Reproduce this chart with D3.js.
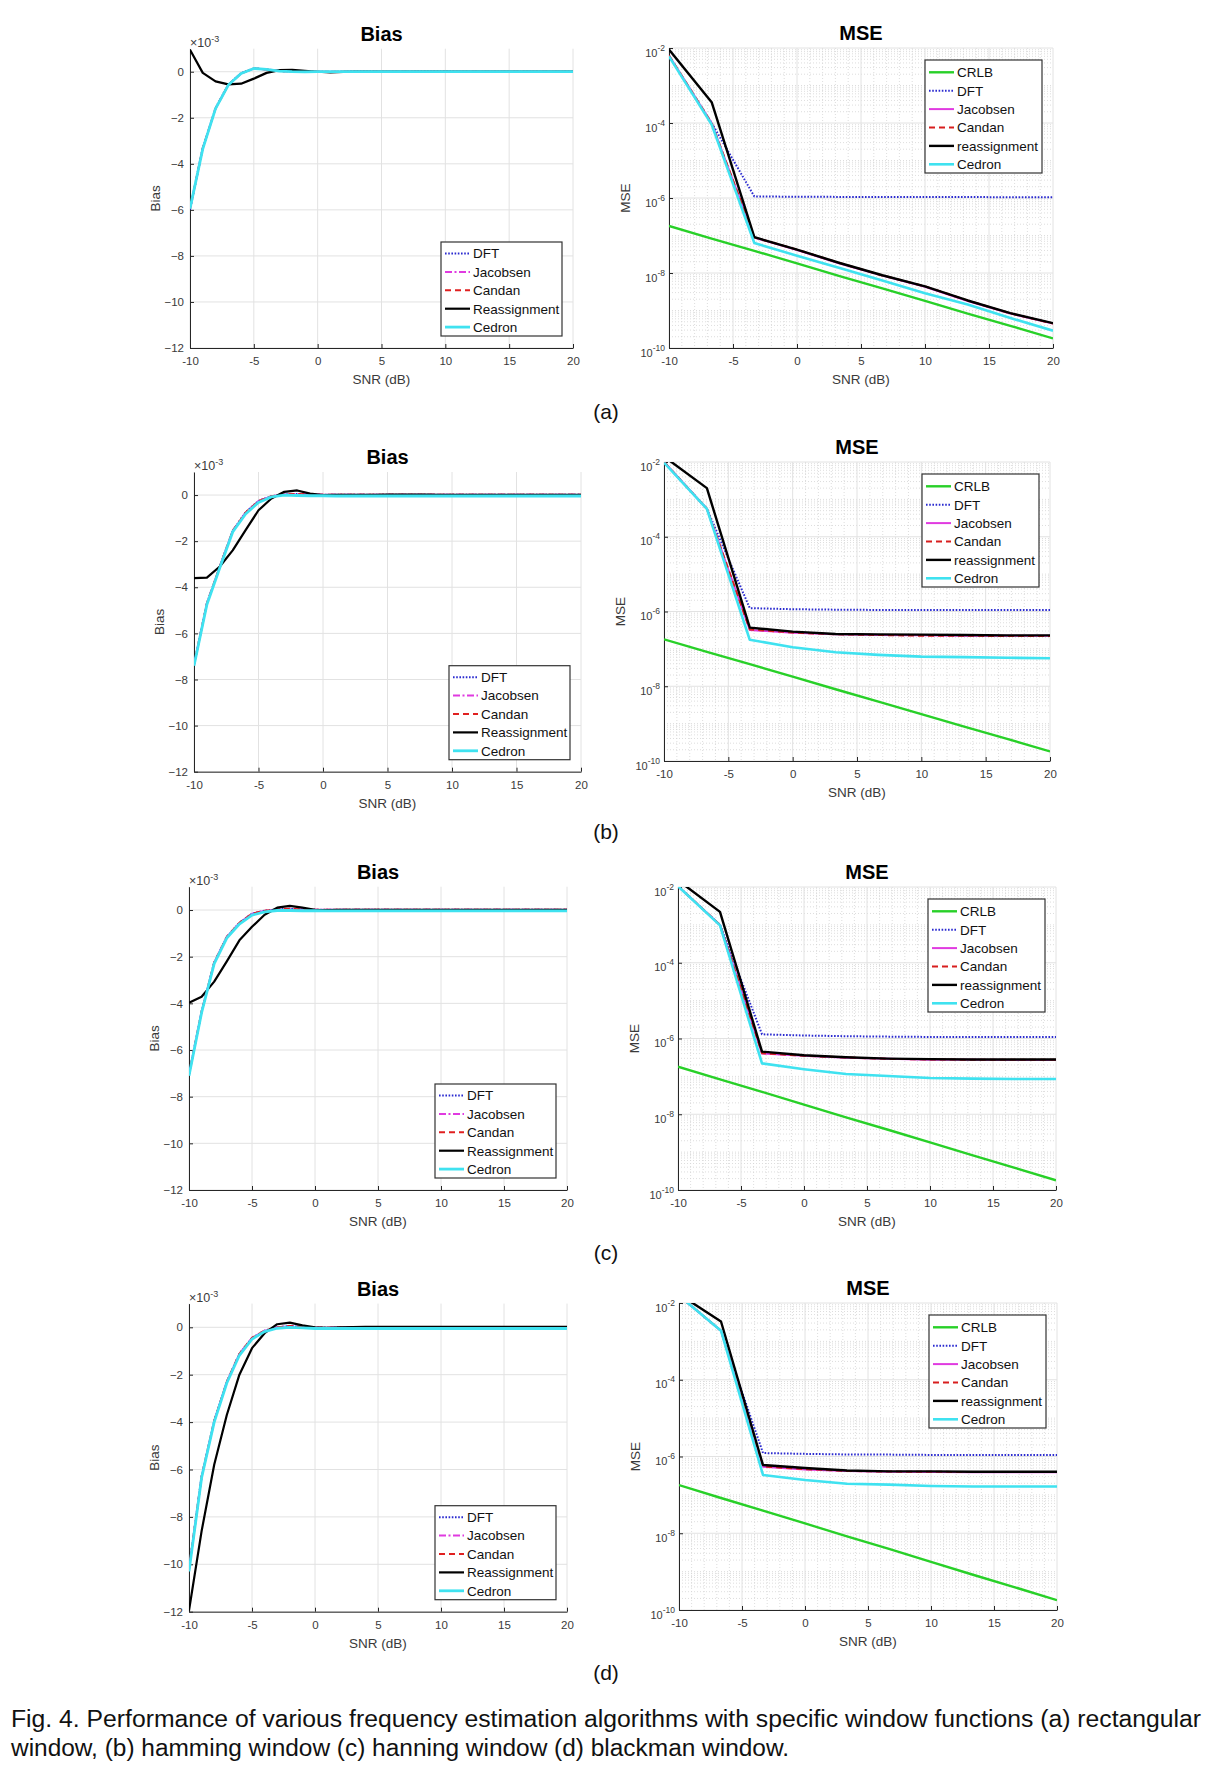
<!DOCTYPE html>
<html><head><meta charset="utf-8">
<script src="https://cdn.jsdelivr.net/npm/d3@7"></script>
<style>
body{margin:0;background:#fff}
svg{display:block}
text{font-family:"Liberation Sans",Arial,Helvetica,sans-serif}
</style>
</head><body>
<svg id="c" width="1220" height="1768"></svg>
<script>
// ---------------- DATA ----------------
const snrBias = [-10,-9,-8,-7,-6,-5,-4,-3,-2,-1,0,1,2,3,4,5,6,7,8,9,10,11,12,13,14,15,16,17,18,19,20];
const snrMse = [-10,-6.667,-3.333,0,3.333,6.667,10,13.333,16.667,20];
const xTickValues = [-10,-5,0,5,10,15,20];
const biasTickValues = [-12,-10,-8,-6,-4,-2,0];
const mseTickValues = [1e-10,1e-8,1e-6,1e-4,1e-2];
const mseTickExponents = ["-10","-8","-6","-4","-2"];
const biasLegendNames = ["DFT","Jacobsen","Candan","Reassignment","Cedron"];
const mseLegendNames = ["CRLB","DFT","Jacobsen","Candan","reassignment","Cedron"];
const panelLabels = ["(a)","(b)","(c)","(d)"];
const captionLines = [
 "Fig. 4. Performance of various frequency estimation algorithms with specific window functions (a) rectangular",
 "window, (b) hamming window (c) hanning window (d) blackman window."
];

// Bias (x10^-3) - (a) rectangular
const biasA_DFT      = [-6.0,-3.3,-1.58,-0.56,-0.06,0.15,0.1,0.03,0.01,0,0,0,0,0.01,0.01,0,0,0,0.01,0.01,0.01,0,0,0,0,0,0,0,0,0,0];
const biasA_Jacobsen = [-5.95,-3.32,-1.6,-0.57,-0.07,0.14,0.1,0.03,0.01,0,0,0,0,0,0,0,0,0,0,0,0,0,0,0,0,0,0,0,0,0,0];
const biasA_Candan   = [-5.95,-3.32,-1.6,-0.57,-0.07,0.14,0.1,0.03,0.01,0,0,0,0,0,0,0,0,0,0,0,0,0,0,0,0,0,0,0,0,0,0];
const biasA_Reassign = [0.95,-0.05,-0.42,-0.55,-0.52,-0.3,-0.05,0.07,0.08,0.04,0,-0.03,-0.01,0,0,0,0,0,0,0,0,0,0,0,0,0,0,0,0,0,0];
const biasA_Cedron   = [-5.95,-3.35,-1.6,-0.58,-0.08,0.14,0.1,0.03,0,-0.01,0,0,0,0,0,0,0,0,0,0,0,0,0,0,0,0,0,0,0,0,0];
// (b) hamming
const biasB_DFT      = [-7.35,-4.7,-3.1,-1.55,-0.75,-0.25,-0.05,0.03,0.05,0.03,0.01,0.01,0.01,0.01,0.01,0.01,0.01,0.01,0.01,0.01,0.01,0.01,0.01,0.01,0.01,0.01,0.01,0.01,0.01,0.01,0.01];
const biasB_Jacobsen = [-7.35,-4.7,-3.1,-1.55,-0.76,-0.26,-0.05,0.03,0.05,0.03,0.01,0.01,0.01,0.01,0.01,0.01,0.01,0.01,0.01,0.01,0.01,0.01,0.01,0.01,0.01,0.01,0.01,0.01,0.01,0.01,0.01];
const biasB_Candan   = [-7.35,-4.7,-3.1,-1.55,-0.76,-0.26,-0.05,0.03,0.05,0.03,0.01,0.01,0.01,0.01,0.01,0.01,0.01,0.01,0.01,0.01,0.01,0.01,0.01,0.01,0.01,0.01,0.01,0.01,0.01,0.01,0.01];
const biasB_Reassign = [-3.6,-3.58,-3.1,-2.4,-1.52,-0.66,-0.15,0.14,0.2,0.06,0,0.01,0.01,0.01,0.01,0.02,0.02,0.02,0.02,0.01,0.01,0.01,0.01,0.01,0.01,0.01,0.01,0.01,0.01,0.01,0.01];
const biasB_Cedron   = [-7.4,-4.75,-3.15,-1.6,-0.82,-0.32,-0.08,0,-0.02,-0.03,-0.03,-0.04,-0.04,-0.04,-0.04,-0.04,-0.04,-0.04,-0.04,-0.04,-0.04,-0.04,-0.04,-0.04,-0.04,-0.04,-0.04,-0.04,-0.04,-0.04,-0.04];
// (c) hanning
const biasC_DFT      = [-7.05,-4.35,-2.25,-1.15,-0.55,-0.15,-0.03,0.03,0.05,0.03,0.01,0.01,0.01,0.01,0.01,0.01,0.01,0.01,0.01,0.01,0.01,0.01,0.01,0.01,0.01,0.01,0.01,0.01,0.01,0.01,0.01];
const biasC_Jacobsen = [-7.05,-4.35,-2.25,-1.15,-0.55,-0.16,-0.03,0.03,0.05,0.03,0.01,0.01,0.01,0.01,0.01,0.01,0.01,0.01,0.01,0.01,0.01,0.01,0.01,0.01,0.01,0.01,0.01,0.01,0.01,0.01,0.01];
const biasC_Candan   = [-7.05,-4.35,-2.25,-1.15,-0.55,-0.16,-0.03,0.03,0.05,0.03,0.01,0.01,0.01,0.01,0.01,0.01,0.01,0.01,0.01,0.01,0.01,0.01,0.01,0.01,0.01,0.01,0.01,0.01,0.01,0.01,0.01];
const biasC_Reassign = [-3.97,-3.72,-3.07,-2.2,-1.3,-0.72,-0.2,0.1,0.18,0.1,0.01,0,0.01,0.01,0.01,0.01,0.01,0.01,0.01,0.01,0.01,0.01,0.01,0.01,0.01,0.01,0.01,0.01,0.01,0.01,0.01];
const biasC_Cedron   = [-7.1,-4.4,-2.3,-1.2,-0.6,-0.22,-0.08,-0.02,-0.02,-0.03,-0.03,-0.04,-0.04,-0.04,-0.04,-0.04,-0.04,-0.04,-0.04,-0.04,-0.04,-0.04,-0.04,-0.04,-0.04,-0.04,-0.04,-0.04,-0.04,-0.04,-0.04];
// (d) blackman
const biasD_DFT      = [-10.2,-6.3,-3.95,-2.3,-1.12,-0.45,-0.14,0,0.05,0.02,-0.02,-0.02,-0.01,0,0.01,0.01,0.01,0.01,0.01,0.01,0.01,0.01,0.01,0.01,0.01,0.01,0.01,0.01,0.01,0.01,0.01];
const biasD_Jacobsen = [-10.2,-6.3,-3.95,-2.3,-1.12,-0.45,-0.14,0,0.05,0.02,-0.02,-0.02,-0.01,0,0.01,0.01,0.01,0.01,0.01,0.01,0.01,0.01,0.01,0.01,0.01,0.01,0.01,0.01,0.01,0.01,0.01];
const biasD_Candan   = [-10.2,-6.3,-3.95,-2.3,-1.12,-0.45,-0.14,0,0.05,0.02,-0.02,-0.02,-0.01,0,0.01,0.01,0.01,0.01,0.01,0.01,0.01,0.01,0.01,0.01,0.01,0.01,0.01,0.01,0.01,0.01,0.01];
const biasD_Reassign = [-11.95,-8.6,-5.8,-3.7,-2.0,-0.88,-0.25,0.13,0.2,0.08,0,-0.02,0,0.01,0.02,0.02,0.02,0.02,0.02,0.02,0.02,0.02,0.02,0.02,0.02,0.02,0.02,0.02,0.02,0.02,0.02];
const biasD_Cedron   = [-10.3,-6.35,-4.0,-2.35,-1.18,-0.5,-0.18,-0.04,0,-0.02,-0.05,-0.05,-0.05,-0.05,-0.05,-0.05,-0.05,-0.05,-0.05,-0.05,-0.05,-0.05,-0.05,-0.05,-0.05,-0.05,-0.05,-0.05,-0.05,-0.05,-0.05];

// MSE
const mse_CRLB = [1.8e-7,8.3e-8,3.9e-8,1.8e-8,8.3e-9,3.9e-9,1.8e-9,8.3e-10,3.9e-10,1.8e-10];
// (a)
const mseA_DFT      = [6.2e-3,1.0e-4,1.1e-6,1.08e-6,1.07e-6,1.07e-6,1.06e-6,1.06e-6,1.05e-6,1.05e-6];
const mseA_Jacobsen = [6.3e-3,9.8e-5,8.8e-8,4.1e-8,1.8e-8,8.5e-9,4.3e-9,1.8e-9,8.3e-10,4.5e-10];
const mseA_Candan   = [6.3e-3,9.9e-5,8.9e-8,4.2e-8,1.85e-8,8.6e-9,4.4e-9,1.85e-9,8.4e-10,4.5e-10];
const mseA_Reassign = [9.1e-3,3.6e-4,9.0e-8,4.2e-8,1.85e-8,8.7e-9,4.4e-9,1.85e-9,8.5e-10,4.6e-10];
const mseA_Cedron   = [6.0e-3,9.1e-5,6.3e-8,2.9e-8,1.35e-8,6.3e-9,2.9e-9,1.45e-9,6.3e-10,2.9e-10];
// (b)
const mseB_DFT      = [1.0e-2,5.6e-4,1.23e-6,1.15e-6,1.12e-6,1.1e-6,1.1e-6,1.1e-6,1.1e-6,1.1e-6];
const mseB_Jacobsen = [1.0e-2,5.6e-4,3.2e-7,2.7e-7,2.45e-7,2.35e-7,2.3e-7,2.25e-7,2.25e-7,2.25e-7];
const mseB_Candan   = [1.0e-2,5.6e-4,3.3e-7,2.75e-7,2.45e-7,2.35e-7,2.25e-7,2.25e-7,2.2e-7,2.2e-7];
const mseB_Reassign = [1.4e-2,2.0e-3,3.7e-7,2.9e-7,2.5e-7,2.45e-7,2.4e-7,2.35e-7,2.3e-7,2.3e-7];
const mseB_Cedron   = [9.6e-3,5.6e-4,1.75e-7,1.1e-7,8.1e-8,6.9e-8,6.2e-8,6.0e-8,5.8e-8,5.6e-8];
// (c)
const mseC_DFT      = [1.05e-2,1.0e-3,1.29e-6,1.2e-6,1.15e-6,1.12e-6,1.1e-6,1.1e-6,1.1e-6,1.1e-6];
const mseC_Jacobsen = [1.05e-2,1.0e-3,4.0e-7,3.5e-7,3.1e-7,2.9e-7,2.75e-7,2.75e-7,2.7e-7,2.7e-7];
const mseC_Candan   = [1.05e-2,1.0e-3,4.1e-7,3.5e-7,3.15e-7,2.9e-7,2.8e-7,2.75e-7,2.75e-7,2.75e-7];
const mseC_Reassign = [1.5e-2,2.2e-3,4.5e-7,3.6e-7,3.2e-7,2.95e-7,2.85e-7,2.8e-7,2.8e-7,2.8e-7];
const mseC_Cedron   = [1.05e-2,9.7e-4,2.2e-7,1.55e-7,1.15e-7,1.02e-7,9.1e-8,8.7e-8,8.5e-8,8.5e-8];
// (d)
const mseD_DFT      = [1.55e-2,1.9e-3,1.23e-6,1.17e-6,1.13e-6,1.12e-6,1.1e-6,1.1e-6,1.1e-6,1.1e-6];
const mseD_Jacobsen = [1.55e-2,1.9e-3,5.4e-7,4.6e-7,4.2e-7,4.0e-7,3.95e-7,3.9e-7,3.9e-7,3.9e-7];
const mseD_Candan   = [1.55e-2,1.9e-3,5.5e-7,4.7e-7,4.2e-7,4.05e-7,4.0e-7,3.95e-7,3.95e-7,3.95e-7];
const mseD_Reassign = [1.7e-2,3.3e-3,6.0e-7,5.0e-7,4.3e-7,4.1e-7,4.1e-7,4.0e-7,4.0e-7,4.0e-7];
const mseD_Cedron   = [1.55e-2,1.9e-3,3.3e-7,2.45e-7,1.95e-7,1.85e-7,1.7e-7,1.65e-7,1.65e-7,1.65e-7];

// ---------------- STYLES / LAYOUT ----------------
const biasStyles = [
  {color:"#2b2bd0", dash:"1.6,1.6", w:2},
  {color:"#e03ae0", dash:"7,2.5,2,2.5", w:2},
  {color:"#e02020", dash:"6,4", w:2},
  {color:"#000000", dash:null, w:2.2},
  {color:"#3fe2f0", dash:null, w:2.8}
];
const mseStyles = [
  {color:"#28d028", dash:null, w:2.4},
  {color:"#2b2bd0", dash:"1.6,1.6", w:2},
  {color:"#e03ae0", dash:null, w:2},
  {color:"#d81e1e", dash:"6,4", w:2},
  {color:"#000000", dash:null, w:2.4},
  {color:"#3fe2f0", dash:null, w:2.6}
];

const panels = [
  {bias:{l:190,r:573,t:48.7,b:348}, mse:{l:669,r:1053,t:48,b:348}, labelY:419,
   biasData:[biasA_DFT,biasA_Jacobsen,biasA_Candan,biasA_Reassign,biasA_Cedron],
   mseData:[mse_CRLB,mseA_DFT,mseA_Jacobsen,mseA_Candan,mseA_Reassign,mseA_Cedron]},
  {bias:{l:194,r:581,t:472,b:771.7}, mse:{l:664,r:1050,t:462,b:761}, labelY:839,
   biasData:[biasB_DFT,biasB_Jacobsen,biasB_Candan,biasB_Reassign,biasB_Cedron],
   mseData:[mse_CRLB,mseB_DFT,mseB_Jacobsen,mseB_Candan,mseB_Reassign,mseB_Cedron]},
  {bias:{l:189,r:567,t:886.7,b:1190}, mse:{l:678,r:1056,t:887,b:1190}, labelY:1260,
   biasData:[biasC_DFT,biasC_Jacobsen,biasC_Candan,biasC_Reassign,biasC_Cedron],
   mseData:[mse_CRLB,mseC_DFT,mseC_Jacobsen,mseC_Candan,mseC_Reassign,mseC_Cedron]},
  {bias:{l:189,r:567,t:1303.6,b:1611.7}, mse:{l:679,r:1057,t:1303,b:1610}, labelY:1680,
   biasData:[biasD_DFT,biasD_Jacobsen,biasD_Candan,biasD_Reassign,biasD_Cedron],
   mseData:[mse_CRLB,mseD_DFT,mseD_Jacobsen,mseD_Candan,mseD_Reassign,mseD_Cedron]}
];

const svg = d3.select("#c");
const defs = svg.append("defs");
const AX = "#262626", TICK = "#3a3a3a", GRID = "#e2e2e2", MINOR = "#d4d4d4";

function clip(id, box){
  defs.append("clipPath").attr("id", id).append("rect")
    .attr("x", box.l).attr("y", box.t).attr("width", box.r-box.l).attr("height", box.b-box.t);
}

function commonAxes(g, box, x, y, yTicks){
  const xa = g.append("g").attr("transform",`translate(0,${box.b})`)
    .call(d3.axisBottom(x).tickValues(xTickValues).tickSizeInner(-4).tickSizeOuter(0).tickPadding(9).tickFormat(d=>d));
  xa.select(".domain").attr("stroke",AX);
  xa.selectAll(".tick line").attr("stroke",AX);
  xa.selectAll("text").attr("fill",TICK).style("font-size","11.5px").attr("font-family",null);
  const ya = g.append("g").attr("transform",`translate(${box.l},0)`)
    .call(d3.axisLeft(y).tickValues(yTicks).tickSizeInner(-4).tickSizeOuter(0).tickPadding(6));
  ya.select(".domain").attr("stroke",AX);
  ya.selectAll(".tick line").attr("stroke",AX);
  return {xa, ya};
}

function legend(g, x0, y0, w, h, names, styles, firstOff){
  g.append("rect").attr("x",x0).attr("y",y0).attr("width",w).attr("height",h)
    .attr("fill","#fff").attr("stroke","#333").attr("stroke-width",1.2);
  names.forEach((n,i)=>{
    const cy = y0 + firstOff + i*18.4;
    const s = styles[i];
    g.append("line").attr("x1",x0+4).attr("x2",x0+29).attr("y1",cy).attr("y2",cy)
      .attr("stroke",s.color).attr("stroke-width",s.w).attr("stroke-dasharray",s.dash);
    g.append("text").attr("x",x0+32).attr("y",cy+4.8).text(n)
      .style("font-size","13.5px").attr("fill","#111");
  });
}

function drawBias(p, idx){
  const box = p.bias;
  const g = svg.append("g");
  const x = d3.scaleLinear([-10,20],[box.l,box.r]);
  const y = d3.scaleLinear([-12,1],[box.b,box.t]);
  g.append("g").selectAll("line").data(xTickValues).join("line")
    .attr("x1",d=>x(d)).attr("x2",d=>x(d)).attr("y1",box.t).attr("y2",box.b).attr("stroke",GRID);
  g.append("g").selectAll("line").data(biasTickValues).join("line")
    .attr("x1",box.l).attr("x2",box.r).attr("y1",d=>y(d)).attr("y2",d=>y(d)).attr("stroke",GRID);
  const {ya} = commonAxes(g, box, x, y, biasTickValues);
  ya.selectAll("text").attr("fill",TICK).style("font-size","11.5px");
  const cid = "cb"+idx; clip(cid, box);
  const line = d3.line().x((d,i)=>x(snrBias[i])).y(d=>y(d));
  const lg = g.append("g").attr("clip-path",`url(#${cid})`);
  p.biasData.forEach((arr,i)=>{
    const s = biasStyles[i];
    lg.append("path").attr("d",line(arr)).attr("fill","none").attr("stroke",s.color)
      .attr("stroke-width",s.w).attr("stroke-dasharray",s.dash).attr("stroke-linejoin","round");
  });
  const ex = g.append("text").attr("x",box.l).attr("y",box.t-2).attr("fill",TICK).style("font-size","12.5px");
  ex.append("tspan").text("\u00d710");
  ex.append("tspan").attr("dy",-5).style("font-size","9px").text("-3");
  g.append("text").attr("x",(box.l+box.r)/2).attr("y",box.t-8).attr("text-anchor","middle")
    .style("font-size","20px").style("font-weight","bold").attr("fill","#000").text("Bias");
  g.append("text").attr("x",(box.l+box.r)/2).attr("y",box.b+36).attr("text-anchor","middle")
    .style("font-size","13.5px").attr("fill",TICK).text("SNR (dB)");
  g.append("text").attr("transform",`translate(${box.l-30},${(box.t+box.b)/2}) rotate(-90)`)
    .attr("text-anchor","middle").style("font-size","13.5px").attr("fill",TICK).text("Bias");
  legend(g, box.r-11-121, box.b-12-94, 121, 94, biasLegendNames, biasStyles, 11.5);
}

function drawMse(p, idx){
  const box = p.mse;
  const g = svg.append("g");
  const x = d3.scaleLinear([-10,20],[box.l,box.r]);
  const y = d3.scaleLog([1e-10,1e-2],[box.b,box.t]);
  const minorX = d3.range(-10,21,1).filter(v=>v%5!==0);
  g.append("g").selectAll("line").data(minorX).join("line")
    .attr("x1",d=>x(d)).attr("x2",d=>x(d)).attr("y1",box.t).attr("y2",box.b)
    .attr("stroke",MINOR).attr("stroke-width",0.8).attr("stroke-dasharray","1,2");
  const minorY = [];
  for(let e=-10;e<-2;e++){ for(let k=1;k<10;k++){ const v=k*Math.pow(10,e); if(!(k===1 && e%2===0)) minorY.push(v);} }
  g.append("g").selectAll("line").data(minorY).join("line")
    .attr("x1",box.l).attr("x2",box.r).attr("y1",d=>y(d)).attr("y2",d=>y(d))
    .attr("stroke",MINOR).attr("stroke-width",0.8).attr("stroke-dasharray","1,2");
  g.append("g").selectAll("line").data(xTickValues).join("line")
    .attr("x1",d=>x(d)).attr("x2",d=>x(d)).attr("y1",box.t).attr("y2",box.b).attr("stroke",GRID);
  g.append("g").selectAll("line").data(mseTickValues).join("line")
    .attr("x1",box.l).attr("x2",box.r).attr("y1",d=>y(d)).attr("y2",d=>y(d)).attr("stroke",GRID);
  const {ya} = commonAxes(g, box, x, y, mseTickValues);
  ya.selectAll("text").remove();
  mseTickValues.forEach((v,i)=>{
    const t = g.append("text").attr("x",box.l-4).attr("y",y(v)+8.5).attr("text-anchor","end")
      .attr("fill",TICK).style("font-size","11px");
    t.append("tspan").text("10");
    t.append("tspan").attr("dy",-6).style("font-size","8.5px").text(mseTickExponents[i]);
  });
  const cid = "cm"+idx; clip(cid, box);
  const line = d3.line().x((d,i)=>x(snrMse[i])).y(d=>y(d));
  const lg = g.append("g").attr("clip-path",`url(#${cid})`);
  p.mseData.forEach((arr,i)=>{
    const s = mseStyles[i];
    lg.append("path").attr("d",line(arr)).attr("fill","none").attr("stroke",s.color)
      .attr("stroke-width",s.w).attr("stroke-dasharray",s.dash).attr("stroke-linejoin","round");
  });
  g.append("text").attr("x",(box.l+box.r)/2).attr("y",box.t-8).attr("text-anchor","middle")
    .style("font-size","20px").style("font-weight","bold").attr("fill","#000").text("MSE");
  g.append("text").attr("x",(box.l+box.r)/2).attr("y",box.b+36).attr("text-anchor","middle")
    .style("font-size","13.5px").attr("fill",TICK).text("SNR (dB)");
  g.append("text").attr("transform",`translate(${box.l-39},${(box.t+box.b)/2}) rotate(-90)`)
    .attr("text-anchor","middle").style("font-size","13.5px").attr("fill",TICK).text("MSE");
  legend(g, box.r-11-117, box.t+12, 117, 113, mseLegendNames, mseStyles, 12.3);
}

panels.forEach((p,i)=>{
  drawBias(p,i);
  drawMse(p,i);
  svg.append("text").attr("x",606).attr("y",p.labelY).attr("text-anchor","middle")
    .style("font-size","21px").attr("fill","#111")
    .text(panelLabels[i]);
});

svg.append("text").attr("x",11).attr("y",1727)
  .style("font-size","23px").attr("fill","#111")
  .attr("textLength",1190).attr("lengthAdjust","spacingAndGlyphs").text(captionLines[0]);
svg.append("text").attr("x",11).attr("y",1756)
  .style("font-size","23px").attr("fill","#111")
  .attr("textLength",778).attr("lengthAdjust","spacingAndGlyphs").text(captionLines[1]);
</script>
</body></html>
